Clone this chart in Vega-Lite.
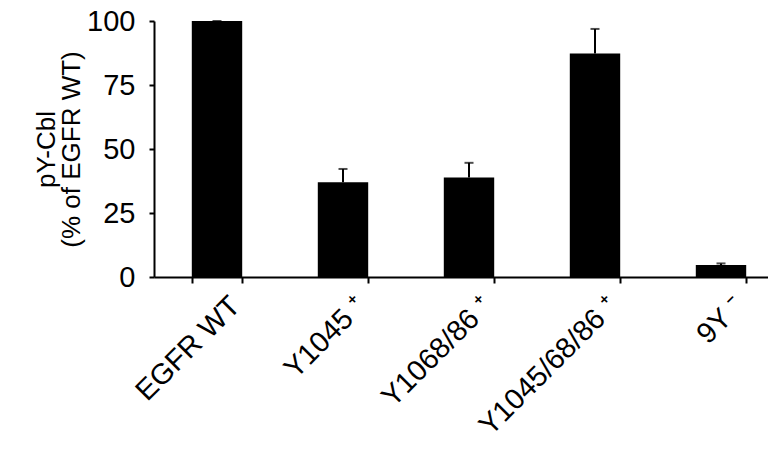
{
  "$schema": "https://vega.github.io/schema/vega-lite/v6.json",
  "autosize": "none",
  "width": 614,
  "height": 256,
  "padding": {"left": 154, "top": 21, "right": 0, "bottom": 174},
  "background": "white",
  "config": {
    "view": {"stroke": null},
    "font": "Liberation Sans",
    "axis": {"domainColor": "black", "tickColor": "black", "labelColor": "black", "titleColor": "black", "grid": false, "domainWidth": 2, "tickWidth": 2, "labelFont": "Liberation Sans", "titleFont": "Liberation Sans", "labelLimit": 0}
  },
  "data": {"values": [
    {"group": "EGFR WT", "value": 100, "upper": 100},
    {"group": "Y1045 ⁺", "value": 37.0, "upper": 42.2},
    {"group": "Y1068/86 ⁺", "value": 38.9, "upper": 44.6},
    {"group": "Y1045/68/86 ⁺", "value": 87.3, "upper": 96.9},
    {"group": "9Y ⁻", "value": 4.7, "upper": 5.3}
  ]},
  "encoding": {
    "x": {"field": "group", "type": "nominal", "sort": null,
      "scale": {"range": [0, 630], "paddingInner": 0.6, "paddingOuter": 0.3},
      "axis": {"title": null, "labelAngle": -45, "labelAlign": "right", "labelBaseline": "top", "labelFontSize": 29, "labelPadding": 8, "labelOffset": 8, "tickBand": "extent", "tickSize": 6}
    }
  },
  "layer": [
    {
      "mark": {"type": "bar", "color": "black"},
      "encoding": {
        "y": {"field": "value", "type": "quantitative",
          "scale": {"domain": [0, 100], "nice": false},
          "axis": {"values": [0, 25, 50, 75, 100], "tickSize": 5, "labelPadding": 14, "labelFontSize": 29,
            "title": ["pY-Cbl", "(% of EGFR WT)"], "titleFontSize": 26, "titleFontWeight": "normal", "titleLineHeight": 25, "titlePadding": 2}
        }
      }
    },
    {
      "mark": {"type": "rule", "color": "black", "strokeWidth": 2},
      "encoding": {"y": {"field": "value", "type": "quantitative"}, "y2": {"field": "upper"}}
    },
    {
      "mark": {"type": "tick", "color": "black", "orient": "horizontal", "size": 9, "thickness": 2},
      "encoding": {"y": {"field": "upper", "type": "quantitative"}}
    }
  ]
}
